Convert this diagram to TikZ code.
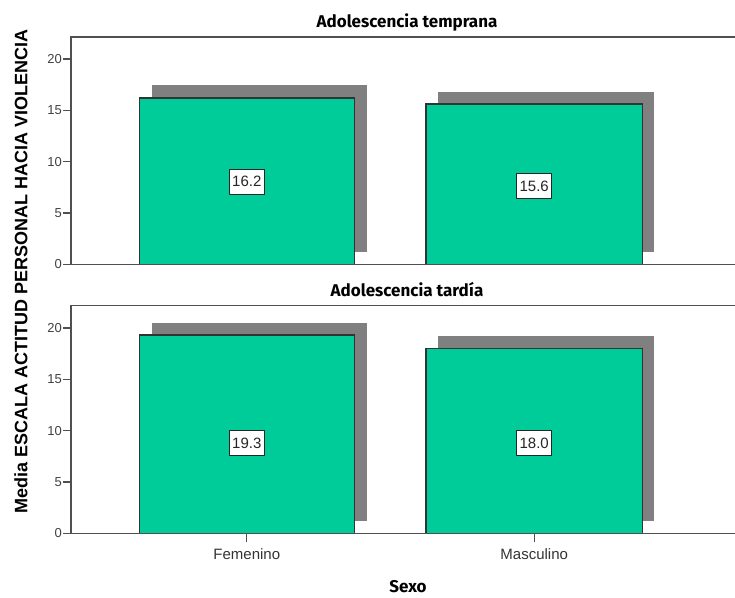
\documentclass[tikz,border=0pt]{standalone}
\usepackage{fontspec}
\setmainfont{Liberation Sans}
\newfontfamily\titlefont{Fira Sans}
\definecolor{barg}{RGB}{0,204,153}
\definecolor{shadowg}{RGB}{128,128,128}
\definecolor{axisc}{RGB}{80,80,80}
\begin{document}
\begin{tikzpicture}[x=1pt,y=-1pt,
  axisline/.style={draw=axisc, line width=1.6pt},
  barbox/.style={fill=barg, draw=black!80, line width=1.2pt},
  shadowbox/.style={fill=shadowg, draw=none},
  vallabel/.style={draw=black!85, fill=white, line width=1pt, inner sep=0pt,
    minimum width=35pt, minimum height=25pt, font=\fontsize{15}{15}\selectfont, text=black!85},
  ticklab/.style={font=\fontsize{13}{13}\selectfont, text=black!75, anchor=east, inner sep=0pt},
  catlab/.style={font=\fontsize{15}{15}\selectfont, text=black!80, anchor=base, inner sep=0pt},
  paneltitle/.style={font=\titlefont\bfseries\fontsize{17}{17}\selectfont, anchor=base, inner sep=0pt},
  tickline/.style={draw=axisc, line width=1.3pt}]
\useasboundingbox (0,0) rectangle (735,597);
\def\sc{10.27}
% ---------- top panel ----------
\def\yA{264.3}
\node[paneltitle] (t1) at (407,27) {Adolescencia temprana};
\pgfmathsetmacro{\fA}{\yA-16.2*\sc}
\pgfmathsetmacro{\mA}{\yA-15.6*\sc}
\fill[shadowbox] (151.5,\fA-12.5) rectangle (367.3,\yA-12.5);
\fill[shadowbox] (437.7,\mA-12.5) rectangle (654.3,\yA-12.5);
\draw[barbox] (139.3,\yA) rectangle (354.3,\fA);
\draw[barbox] (426,\yA) rectangle (642.3,\mA);
\draw[axisline] (735,37) -- (71,37) -- (71,\yA) -- (735,\yA);
\foreach \v in {0,5,10,15,20}{
  \pgfmathsetmacro{\yy}{\yA-\v*\sc}
  \draw[tickline] (63,\yy) -- (71,\yy);
  \node[ticklab] (ta\v) at (62,\yy) {\v};
}
\node[vallabel] (v1) at (246.8,181.8) {16.2};
\node[vallabel] (v2) at (534.2,186) {15.6};
% ---------- bottom panel ----------
\def\yB{533.3}
\node[paneltitle] (t2) at (407,296) {Adolescencia tardía};
\pgfmathsetmacro{\fB}{\yB-19.3*\sc}
\pgfmathsetmacro{\mB}{\yB-18.0*\sc}
\fill[shadowbox] (151.5,\fB-12.5) rectangle (367.3,\yB-12.5);
\fill[shadowbox] (437.7,\mB-12.5) rectangle (654.3,\yB-12.5);
\draw[barbox] (139.3,\yB) rectangle (354.3,\fB);
\draw[barbox] (426,\yB) rectangle (642.3,\mB);
\draw[axisline] (735,305.5) -- (71,305.5) -- (71,\yB) -- (735,\yB);
\foreach \v in {0,5,10,15,20}{
  \pgfmathsetmacro{\yy}{\yB-\v*\sc}
  \draw[tickline] (63,\yy) -- (71,\yy);
  \node[ticklab] (tb\v) at (62,\yy) {\v};
}
\node[vallabel] (v3) at (246.8,443) {19.3};
\node[vallabel] (v4) at (534.2,443) {18.0};
% category axis
\draw[tickline] (246.8,\yB) -- (246.8,542);
\draw[tickline] (534.2,\yB) -- (534.2,542);
\node[catlab] (c1) at (246.8,559) {Femenino};
\node[catlab] (c2) at (534.2,559) {Masculino};
\node[paneltitle] (xl) at (408,592) {Sexo};
\node[font=\bfseries\fontsize{18}{18}\selectfont, rotate=90, inner sep=0pt] (yl) at (21,271) {Media ESCALA ACTITUD PERSONAL HACIA VIOLENCIA};
\end{tikzpicture}
\end{document}
